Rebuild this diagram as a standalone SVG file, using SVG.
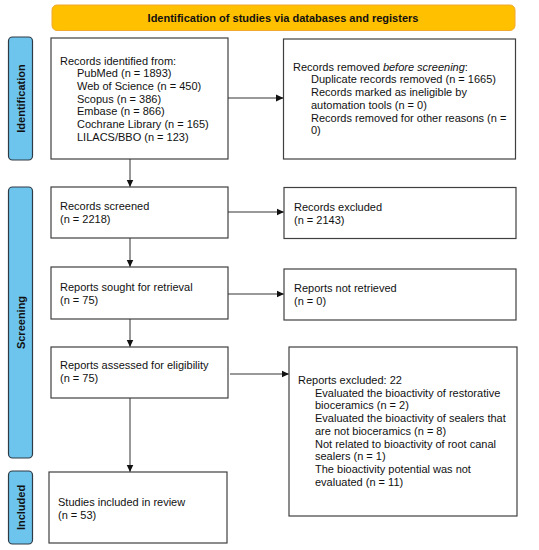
<svg xmlns="http://www.w3.org/2000/svg" width="539" height="550" viewBox="0 0 539 550">
<style>
.box{fill:#fff;stroke:#404040;stroke-width:1.2}
.side{fill:#6DC5EE;stroke:#2f3b44;stroke-width:1.2}
.t{font-family:"Liberation Sans",Arial,sans-serif;font-size:11px;fill:#111}
.b{font-family:"Liberation Sans",Arial,sans-serif;font-size:11px;font-weight:bold;fill:#111}
.c{stroke:#333;stroke-width:1;fill:none}
</style>
<defs>
<marker id="ah" markerWidth="8" markerHeight="8" refX="7" refY="4" orient="auto" markerUnits="userSpaceOnUse">
<path d="M0,0.5 L7.5,4 L0,7.5 Z" fill="#111"/>
</marker>
</defs>
<rect width="539" height="550" fill="#fff"/>
<g id="banner">
<rect x="52" y="5" width="463" height="25.5" rx="5" fill="#FFC000" stroke="#F0A830" stroke-width="1"/>
<text class="b" x="283" y="21.5" text-anchor="middle">Identification of studies via databases and registers</text>
</g>
<g id="side-identification">
<rect class="side" x="8.5" y="37" width="24" height="123" rx="4"/>
<text class="b" transform="translate(24.5,98.5) rotate(-90)" text-anchor="middle">Identification</text>
</g>
<g id="side-screening">
<rect class="side" x="8.5" y="187" width="24" height="271" rx="4"/>
<text class="b" transform="translate(24.5,322.5) rotate(-90)" text-anchor="middle">Screening</text>
</g>
<g id="side-included">
<rect class="side" x="8.5" y="471" width="24" height="73" rx="4"/>
<text class="b" transform="translate(24.5,507.5) rotate(-90)" text-anchor="middle">Included</text>
</g>
<g id="identified">
<rect class="box" x="51" y="38" width="177" height="121"/>
<text class="t" x="60" y="64.5">Records identified from:</text>
<text class="t" x="77" y="77.2">PubMed (n = 1893)</text>
<text class="t" x="77" y="89.9">Web of Science (n = 450)</text>
<text class="t" x="77" y="102.6">Scopus (n = 386)</text>
<text class="t" x="77" y="115.3">Embase (n = 866)</text>
<text class="t" x="77" y="128">Cochrane Library (n = 165)</text>
<text class="t" x="77" y="140.7">LILACS/BBO (n = 123)</text>
</g>
<g id="removed">
<rect class="box" x="283.5" y="39" width="232" height="120"/>
<text class="t" x="293" y="70.7">Records removed <tspan font-style="italic">before screening</tspan>:</text>
<text class="t" x="311" y="83.4">Duplicate records removed  (n = 1665)</text>
<text class="t" x="311" y="96.1">Records marked as ineligible by</text>
<text class="t" x="311" y="108.8">automation tools (n = 0)</text>
<text class="t" x="311" y="121.5">Records removed for other reasons (n =</text>
<text class="t" x="311" y="134.2">0)</text>
</g>
<g id="screened">
<rect class="box" x="51" y="187" width="177" height="51"/>
<text class="t" x="60" y="209.5">Records screened</text>
<text class="t" x="60" y="222.5">(n = 2218)</text>
</g>
<g id="excluded">
<rect class="box" x="284" y="187.5" width="232" height="51"/>
<text class="t" x="294" y="210.5">Records excluded</text>
<text class="t" x="294" y="223.5">(n = 2143)</text>
</g>
<g id="sought">
<rect class="box" x="51" y="267" width="177" height="52"/>
<text class="t" x="60" y="291">Reports sought for retrieval</text>
<text class="t" x="60" y="304">(n = 75)</text>
</g>
<g id="notretrieved">
<rect class="box" x="284" y="269" width="232" height="51"/>
<text class="t" x="294" y="292">Reports not retrieved</text>
<text class="t" x="294" y="305">(n = 0)</text>
</g>
<g id="assessed">
<rect class="box" x="51" y="347" width="177" height="51"/>
<text class="t" x="60" y="369">Reports assessed for eligibility</text>
<text class="t" x="60" y="382">(n = 75)</text>
</g>
<g id="reportsexcluded">
<rect class="box" x="289" y="347" width="228" height="169"/>
<text class="t" x="298" y="384">Reports excluded: 22</text>
<text class="t" x="315" y="396.7">Evaluated the bioactivity of restorative</text>
<text class="t" x="315" y="409.4">bioceramics (n = 2)</text>
<text class="t" x="315" y="422.1">Evaluated the bioactivity of sealers that</text>
<text class="t" x="315" y="434.8">are not bioceramics (n = 8)</text>
<text class="t" x="315" y="447.5">Not related to bioactivity of root canal</text>
<text class="t" x="315" y="460.2">sealers (n = 1)</text>
<text class="t" x="315" y="472.9">The bioactivity potential was not</text>
<text class="t" x="315" y="485.6">evaluated (n = 11)</text>
</g>
<g id="included">
<rect class="box" x="49" y="472" width="178" height="71"/>
<text class="t" x="58" y="505.5">Studies included in review</text>
<text class="t" x="58" y="518.5">(n = 53)</text>
</g>
<g id="connectors">
<line class="c" x1="228" y1="98" x2="283" y2="98" marker-end="url(#ah)"/>
<line class="c" x1="130" y1="159" x2="130" y2="186.5" marker-end="url(#ah)"/>
<line class="c" x1="228" y1="212" x2="283.5" y2="212" marker-end="url(#ah)"/>
<line class="c" x1="130" y1="238" x2="130" y2="266.5" marker-end="url(#ah)"/>
<line class="c" x1="228" y1="294" x2="283.5" y2="294" marker-end="url(#ah)"/>
<line class="c" x1="130" y1="319" x2="130" y2="346.5" marker-end="url(#ah)"/>
<line class="c" x1="230" y1="374" x2="288.5" y2="374" marker-end="url(#ah)"/>
<line class="c" x1="130" y1="398" x2="130" y2="471.5" marker-end="url(#ah)"/>
</g>
</svg>
